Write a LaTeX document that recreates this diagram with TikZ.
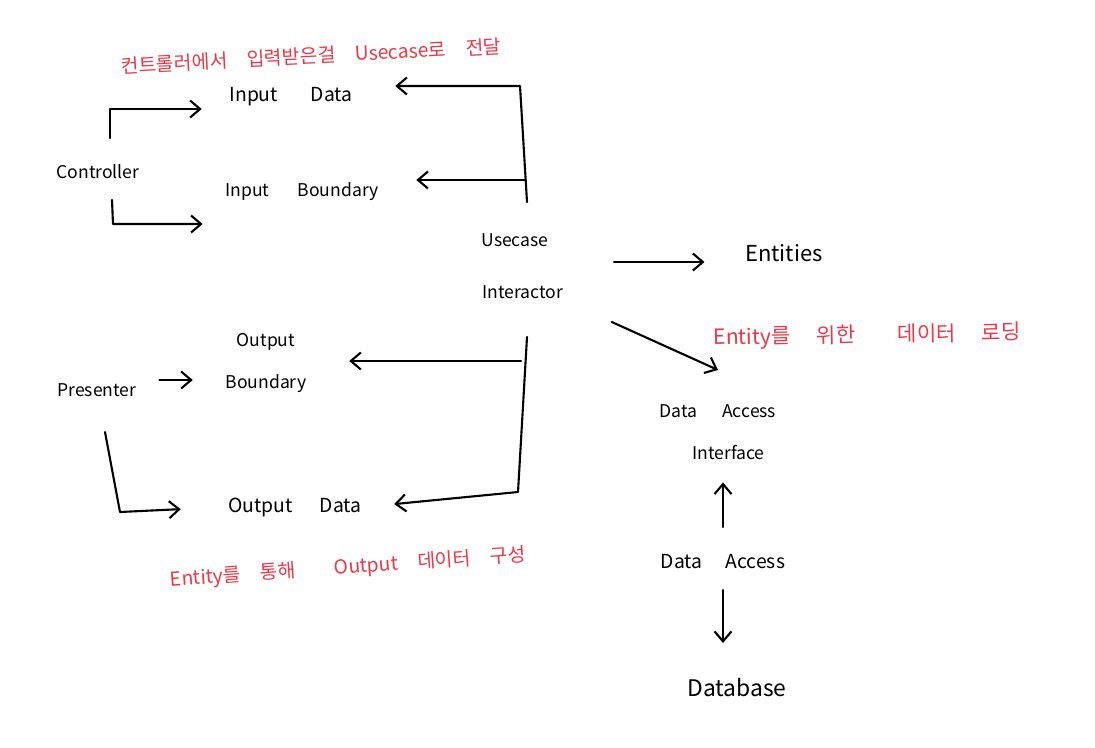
\documentclass[tikz,border=0pt]{standalone}
\usepackage{fontspec}
\setmainfont{Noto Sans CJK KR}
\usetikzlibrary{arrows.meta}
\definecolor{notered}{RGB}{238,56,72}

\begin{document}
\begin{tikzpicture}[x=0.02cm,y=-0.02cm,
    line width=1.2pt, line cap=round, line join=round,
    lbl/.style={font=\fontsize{10}{12}\selectfont, inner sep=1pt},
    big/.style={font=\fontsize{12.5}{14}\selectfont, inner sep=1pt},
    note/.style={text=notered, font=\fontsize{11}{13}\selectfont, inner sep=1pt},
    arr/.style={-{Straight Barb[length=2mm,width=3.4mm]}}]
  \useasboundingbox (0,0) rectangle (1095,747);

  % Beschriftung
  \node[note, rotate=3] (memoin) at (311,56) {컨트롤러에서\quad 입력받은걸\quad Usecase로\quad 전달};
  \node[note, rotate=1, font=\fontsize{12}{14}\selectfont] (memoent) at (867,336) {Entity를\quad\ 위한\quad\quad 데이터\quad\ 로딩};
  \node[note, rotate=4] (memoout) at (348,568) {Entity를\quad 통해\quad\quad Output\quad 데이터\quad 구성};

  \node[lbl] (ctrl) at (98,172) {Controller};
  \node[lbl, font=\fontsize{11}{13}\selectfont] (indata) at (291,97) {Input\hspace{1.7em}Data};
  \node[lbl] (inbound) at (302,192) {Input\hspace{1.6em}Boundary};
  \node[lbl] (uc) at (515,240) {Usecase};
  \node[lbl] (ia) at (523,292) {Interactor};
  \node[big] (ent) at (784,253) {Entities};
  \node[lbl] (pres) at (97,390) {Presenter};
  \node[lbl, align=center] (outbound) at (266,363) {Output\\[12pt]Boundary};
  \node[lbl, font=\fontsize{11}{13}\selectfont] (outdata) at (295,507) {Output\hspace{1.4em}Data};
  \node[lbl, align=center] (dai) at (718,432) {Data\hspace{1.4em}Access\\[12pt]\hspace*{1.2em}Interface};
  \node[lbl, font=\fontsize{11}{13}\selectfont] (da) at (723,562) {Data\hspace{1.2em}Access};
  \node[big, font=\fontsize{13}{15}\selectfont] (db) at (737,688) {Database};

  % Eingang
  \coordinate (cu) at (110,138);
  \coordinate (cuk) at (110,109);
  \coordinate (cd) at (112,200);
  \coordinate (cdk) at (113,224);
  \draw[arr, shorten >=0.5cm] (cu) -- (cuk) -- (cuk -| indata.west);
  \draw[arr, shorten >=0.4cm] (cd) -- (cdk) -- (cdk -| inbound.west);

  \coordinate (ub) at (527,202);
  \coordinate (ut) at (520,86);
  \coordinate (um) at (525,180);
  \draw[arr, shorten >=0.8cm] (ub) -- (ut) -- (ut -| indata.east);
  \draw[arr, shorten >=0.7cm] (um) -- (um -| inbound.east);

  % Ausgang
  \coordinate (ot) at (527,337);
  \coordinate (ob) at (518,492);
  \coordinate (om) at (521,361);
  \draw[arr, shorten >=0.6cm] (ot) -- (ob) -- (outdata.east);
  \draw[arr, shorten >=0.8cm] (om) -- (om -| outbound.east);

  \draw[arr, shorten <=0.4cm, shorten >=0.6cm] ([yshift=0.2cm]pres.east) -- ([yshift=0.2cm]pres.east -| outbound.west);
  \coordinate (pt) at (105,432);
  \coordinate (pb) at (120,512);
  \draw[arr, shorten >=0.9cm] (pt) -- (pb) -- (outdata.west);

  % Entities, Data Access
  \coordinate (ie) at (614,262);
  \draw[arr, shorten >=0.76cm] (ie) -- (ie -| ent.west);
  \coordinate (dtip) at (718,370);
  \draw[arr, shorten <=1cm] (ia.south east) -- (dtip);
  \draw[arr, shorten <=0.5cm, shorten >=0.4cm] (da.north) -- (da.north |- dai.south);
  \draw[arr, shorten <=0.36cm, shorten >=0.66cm] (da.south) -- (da.south |- db.north);

\end{tikzpicture}
\end{document}
